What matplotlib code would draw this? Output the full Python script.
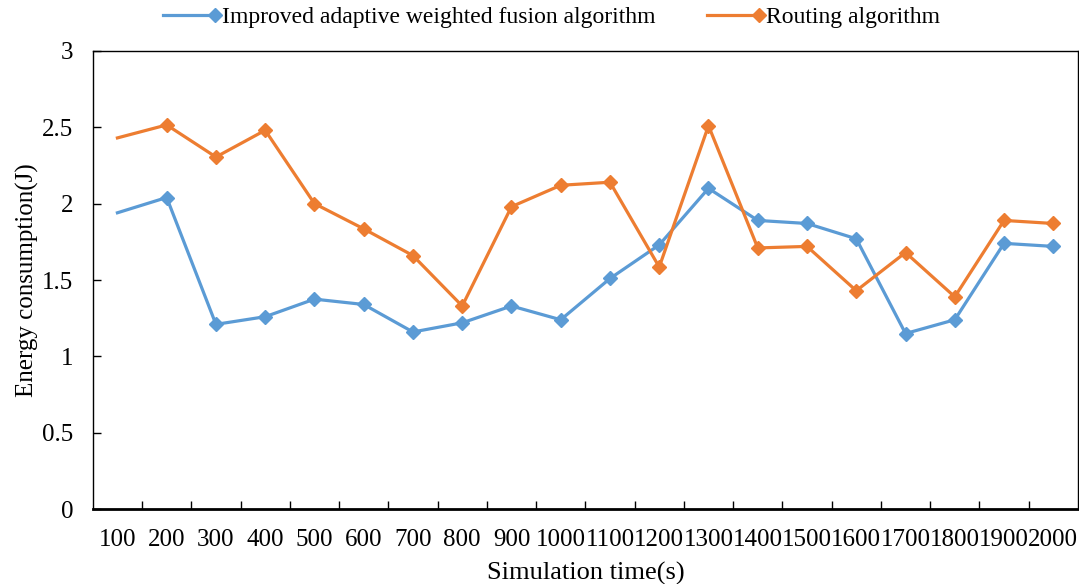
import numpy as np
import matplotlib.pyplot as plt
from matplotlib.legend_handler import HandlerLine2D
from matplotlib.ticker import FixedLocator

plt.rcParams['font.family'] = ['Liberation Serif', 'DejaVu Serif']

times = [100, 200, 300, 400, 500, 600, 700, 800, 900, 1000,
         1100, 1200, 1300, 1400, 1500, 1600, 1700, 1800, 1900, 2000]
improved = [1.94, 2.04, 1.21, 1.26, 1.375, 1.34, 1.16, 1.22, 1.33, 1.24,
            1.51, 1.73, 2.10, 1.89, 1.87, 1.77, 1.15, 1.24, 1.74, 1.72]
routing = [2.43, 2.515, 2.305, 2.48, 2.00, 1.835, 1.66, 1.33, 1.98, 2.12,
           2.14, 1.585, 2.51, 1.71, 1.72, 1.43, 1.68, 1.39, 1.89, 1.87]

BLUE = "#5B9BD5"
ORANGE = "#ED7D31"


class EndMarkerHandler(HandlerLine2D):
  # marker drawn at the right end of the legend line
  def create_artists(self, *args, **kwargs):
    artists = super().create_artists(*args, **kwargs)
    for a in artists:
      a.set_markevery([2])
    return artists


fig = plt.figure(figsize=(10.79, 5.84), dpi=100)
ax = fig.add_axes([0.086, 0.128, 0.913, 0.785])

x = np.arange(len(times))
l1, = ax.plot(x, improved, color=BLUE, lw=2.3, marker="D", ms=7.5,
              markevery=list(range(1, len(x))), label="Improved adaptive weighted fusion algorithm")
l2, = ax.plot(x, routing, color=ORANGE, lw=2.3, marker="D", ms=7.5,
              markevery=list(range(1, len(x))), label="Routing algorithm")

ax.set_xlim(-0.5, len(x) - 0.5)
ax.set_ylim(0, 3)
ax.set_yticks(np.arange(0, 3.01, 0.5))
ax.set_yticklabels(["0", "0.5", "1", "1.5", "2", "2.5", "3"])
ax.set_xticks(x)
ax.set_xticklabels([str(t) for t in times])
ax.xaxis.set_minor_locator(FixedLocator(np.arange(0.5, len(x) - 1, 1.0)))

ax.tick_params(axis="x", which="major", length=0, pad=14, labelsize=18)
ax.tick_params(axis="x", which="minor", direction="in", length=6, width=1)
ax.tick_params(axis="y", direction="in", length=6, width=1, pad=14, labelsize=18)

for s in ax.spines.values():
  s.set_linewidth(1.0)
  s.set_color("black")
ax.spines["bottom"].set_linewidth(2.0)

ax.set_xlabel("Simulation time(s)", fontsize=19, labelpad=8)
ax.set_ylabel("Energy consumption(J)", fontsize=18, labelpad=2)

fig.legend(handles=[l1, l2], loc="upper center", bbox_to_anchor=(0.511, 1.025),
           ncol=2, frameon=False, fontsize=17, numpoints=1,
           handlelength=2.2, handletextpad=0.3, columnspacing=2.2,
           handler_map={l1: EndMarkerHandler(), l2: EndMarkerHandler()})

fig.savefig("out.png", dpi=100)
